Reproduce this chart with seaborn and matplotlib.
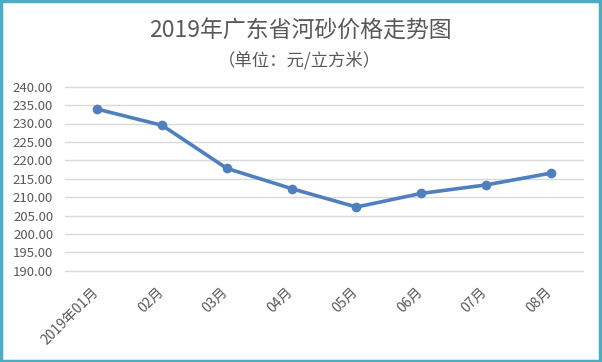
import matplotlib
matplotlib.use("Agg")
import matplotlib.pyplot as plt
import seaborn as sns
import pandas as pd
from matplotlib.patches import Rectangle
from matplotlib.transforms import ScaledTranslation

months = ["2019年01月", "02月", "03月", "04月", "05月", "06月", "07月", "08月"]
prices = [233.9, 229.5, 217.8, 212.3, 207.3, 211.0, 213.3, 216.5]
yticks = [190, 195, 200, 205, 210, 215, 220, 225, 230, 235, 240]
title = "2019年广东省河砂价格走势图"
subtitle = "（单位：元/立方米）"

sns.set_theme(style="white")
plt.rcParams['font.family'] = ['Noto Sans CJK SC', 'DejaVu Sans']

df = pd.DataFrame({"month": months, "price": prices})
fig = plt.figure(figsize=(6.02, 3.62), dpi=100)
W, H = 602, 362
ax = fig.add_axes([65/W, 1 - 270.7/H, (583-65)/W, (270.7-86.7)/H])

sns.lineplot(data=df, x="month", y="price", ax=ax, sort=False, color="#4F7FBF",
             linewidth=2.6, marker="o", markersize=7, markeredgewidth=0)

ax.set_xlim(-0.5, len(months) - 0.5)
ax.set_ylim(190, 240)
ax.set_yticks(yticks)
ax.set_yticklabels([f"{v:.2f}" for v in yticks])
ax.yaxis.grid(True, color="#D9D9D9", linewidth=1)
for l in ax.get_ygridlines():
    l.set_clip_on(False)
ax.set_axisbelow(True)
for s in ax.spines.values():
    s.set_visible(False)
ax.set_xlabel("")
ax.set_ylabel("")
ax.tick_params(axis="y", length=0, pad=8.5, labelsize=9.5, labelcolor="#595959")
ax.tick_params(axis="x", length=0, pad=5, labelsize=10, labelcolor="#595959")
ax.set_xticks(range(len(months)))
ax.set_xticklabels(months, rotation=45, ha="right", rotation_mode="anchor")
off = ScaledTranslation(-6/100, -7/100, fig.dpi_scale_trans)
for lab in ax.get_xticklabels():
    lab.set_transform(lab.get_transform() + off)

fig.text(300/W, 1 - 31/H, title, ha="center", va="center", fontsize=16.5, color="#595959")
fig.text(299/W, 1 - 60/H, subtitle, ha="center", va="center", fontsize=12.5, color="#595959")

fig.patches.append(Rectangle((0.002, 0.003), 0.995, 0.994, transform=fig.transFigure,
                             fill=False, edgecolor="#4BACC6", linewidth=2.5))

fig.savefig("out.png", dpi=100, facecolor="white")
